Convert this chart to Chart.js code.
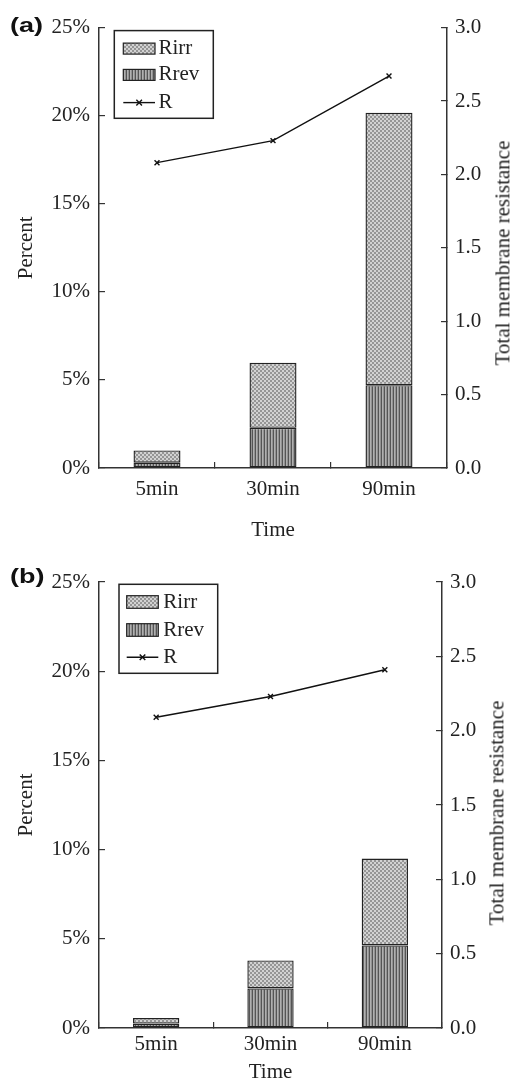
<!DOCTYPE html>
<html><head><meta charset="utf-8">
<script src="https://cdn.jsdelivr.net/npm/chart.js@4.4.1/dist/chart.umd.min.js"></script>
<style>
html,body{margin:0;padding:0;background:#fff;}
body{width:515px;height:1081px;position:relative;overflow:hidden;}
canvas{position:absolute;left:0;}
.lbl{position:absolute;font-family:'Liberation Sans',Arial,sans-serif;font-weight:bold;font-size:20px;line-height:20px;color:#111;transform-origin:0 0;transform:scaleX(1.35);white-space:nowrap;}
.rt{position:absolute;font-family:'Liberation Serif','Times New Roman',serif;font-size:21px;line-height:1.2;color:#222;white-space:nowrap;transform:translate(-50%,-50%) rotate(-90deg);}
</style></head><body>
<canvas id="ca" width="515" height="540" style="top:0"></canvas>
<canvas id="cb" width="515" height="541" style="top:540px"></canvas>
<div class="lbl" style="left:10px;top:15px">(a)</div>
<div class="lbl" style="left:10px;top:566px">(b)</div>
<div class="rt" style="left:503px;top:253px">Total membrane resistance</div>
<div class="rt" style="left:497px;top:813px">Total membrane resistance</div>
<script>
// ---- data ----
const categories = ['5min', '30min', '90min'];
const seriesNames = ['Rirr', 'Rrev', 'R'];
const rirrA = [0.70, 3.69, 15.47];
const rrevA = [0.30, 2.28, 4.70];
const rA = [2.08, 2.23, 2.67];
const rirrB = [0.31, 1.57, 4.87];
const rrevB = [0.25, 2.22, 4.63];
const rB = [2.09, 2.23, 2.41];
const percentTickLabels = ['0%', '5%', '10%', '15%', '20%', '25%'];
const resistanceTickLabels = ['0.0', '0.5', '1.0', '1.5', '2.0', '2.5', '3.0'];

// ---- patterns ----
function dotPattern() {
  const c = document.createElement('canvas'); c.width = 4; c.height = 4;
  const g = c.getContext('2d');
  g.fillStyle = '#959595'; g.fillRect(0, 0, 4, 4);
  g.fillStyle = '#d2d2d2'; g.fillRect(0, 0, 2, 2); g.fillRect(2, 2, 2, 2);
  return g.createPattern(c, 'repeat');
}
function stripePattern() {
  const c = document.createElement('canvas'); c.width = 3; c.height = 3;
  const g = c.getContext('2d');
  g.fillStyle = '#555555'; g.fillRect(0, 0, 1, 3);
  g.fillStyle = '#b0b0b0'; g.fillRect(1, 0, 1, 3);
  g.fillStyle = '#929292'; g.fillRect(2, 0, 1, 3);
  return g.createPattern(c, 'repeat');
}
const irrFill = dotPattern();
const revFill = stripePattern();

const FAMILY = "'Liberation Serif','Times New Roman',serif";
Chart.defaults.font.family = FAMILY;
Chart.defaults.font.size = 21;
Chart.defaults.color = '#222';

const boxLegend = {
  id: 'boxLegend',
  afterDatasetsDraw(chart, args, o) {
    const ctx = chart.ctx, a = chart.chartArea;
    const x0 = a.left + o.dx, y0 = a.top + o.dy;
    ctx.save();
    ctx.fillStyle = '#fff'; ctx.fillRect(x0, y0, o.w, o.h);
    ctx.strokeStyle = '#222'; ctx.lineWidth = 1.5; ctx.strokeRect(x0, y0, o.w, o.h);
    ctx.font = "21px " + FAMILY;
    ctx.textBaseline = 'middle'; ctx.textAlign = 'left';
    seriesNames.forEach((name, i) => {
      const ds = chart.data.datasets.find(d => d.label === name);
      const cy = y0 + o.rows[i];
      const sx = x0 + o.sx;
      if (ds.type === 'line') {
        ctx.strokeStyle = '#111'; ctx.lineWidth = 1.4;
        ctx.beginPath(); ctx.moveTo(sx, cy); ctx.lineTo(sx + o.sw, cy); ctx.stroke();
        const mx = sx + o.sw / 2, r = 2.8;
        ctx.beginPath(); ctx.moveTo(mx - r, cy - r); ctx.lineTo(mx + r, cy + r);
        ctx.moveTo(mx + r, cy - r); ctx.lineTo(mx - r, cy + r); ctx.stroke();
      } else {
        ctx.fillStyle = ds.backgroundColor;
        ctx.fillRect(sx, cy - o.sh / 2, o.sw, o.sh);
        ctx.strokeStyle = '#222'; ctx.lineWidth = 1.2;
        ctx.strokeRect(sx, cy - o.sh / 2, o.sw, o.sh);
      }
      ctx.fillStyle = '#222';
      ctx.fillText(name, x0 + o.tx, cy);
    });
    ctx.restore();
  }
};

function makeChart(id, rirr, rrev, r, L) {
  return new Chart(document.getElementById(id), {
    type: 'bar',
    data: {
      labels: categories,
      datasets: [
        { label: 'Rrev', data: rrev, backgroundColor: revFill, borderColor: '#222', borderWidth: 1.4, borderSkipped: false, yAxisID: 'y', order: 1, barPercentage: 0.405, categoryPercentage: 1 },
        { label: 'Rirr', data: rirr, backgroundColor: irrFill, borderColor: '#222', borderWidth: 1.4, borderSkipped: false, yAxisID: 'y', order: 1, barPercentage: 0.405, categoryPercentage: 1 },
        { label: 'R', type: 'line', data: r, yAxisID: 'y1', order: 0, borderColor: '#111', borderWidth: 1.4, pointStyle: 'crossRot', pointRadius: 3.5, pointBorderWidth: 1.4, pointBorderColor: '#111', fill: false, tension: 0 }
      ]
    },
    options: {
      responsive: false,
      animation: false,
      layout: { padding: { top: L.top, left: 0, right: 0, bottom: 0 } },
      plugins: { legend: { display: false }, tooltip: { enabled: false }, boxLegend: L.legend },
      scales: {
        x: {
          stacked: true,
          grid: { offset: true, drawOnChartArea: false, tickLength: -6, color: '#333', lineWidth: 1.2 },
          border: { color: '#333', width: 1.5 },
          ticks: { padding: L.xPad, color: '#222' },
          title: { display: true, text: 'Time', color: '#222', font: { size: 21 }, padding: { top: 0, bottom: L.timePad } },
          afterFit: s => { s.height = L.xH; }
        },
        y: {
          position: 'left', stacked: true, min: 0, max: 25,
          grid: { drawOnChartArea: false, tickLength: -6, color: '#333', lineWidth: 1.2 },
          border: { color: '#333', width: 1.5 },
          ticks: { stepSize: 5, padding: 15, color: '#222', callback: (v, i) => percentTickLabels[i] },
          title: { display: true, text: 'Percent', color: '#222', font: { size: 21 }, padding: { top: 13.6, bottom: 0 } },
          afterFit: s => { s.width = 99; }
        },
        y1: {
          position: 'right', min: 0, max: 3,
          grid: { drawOnChartArea: false, tickLength: -6, color: '#333', lineWidth: 1.2 },
          border: { color: '#333', width: 1.5 },
          ticks: { stepSize: 0.5, padding: 14, color: '#222', callback: (v, i) => resistanceTickLabels[i] },
          afterFit: s => { s.width = L.rW; }
        }
      }
    },
    plugins: [boxLegend]
  });
}

function drawAll() {
  makeChart('ca', rirrA, rrevA, rA, {
    top: 22, xH: 72, rW: 68, xPad: 15, timePad: -3,
    legend: { dx: 15.3, dy: 3, w: 99, h: 87.7, sx: 9, sw: 31.7, sh: 11, tx: 44.2, rows: [18, 44.3, 72] }
  });
  makeChart('cb', rirrB, rrevB, rB, {
    top: 42, xH: 53, rW: 73, xPad: 10, timePad: -4,
    legend: { dx: 20, dy: 2.3, w: 98.7, h: 89, sx: 7.7, sw: 31.6, sh: 12.6, tx: 44.3, rows: [17.7, 45.7, 73] }
  });
}
Promise.all([
  document.fonts.load("21px 'Liberation Serif'"),
  document.fonts.load("bold 20px 'Liberation Sans'")
]).then(drawAll, drawAll);
</script>
</body></html>
